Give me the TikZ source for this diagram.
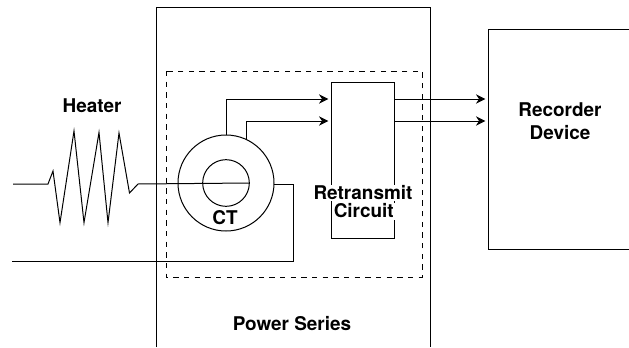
\documentclass[tikz,border=0pt]{standalone}
\usepackage{fontspec}
\setmainfont{TeX Gyre Heros}
\usetikzlibrary{arrows.meta}

\begin{document}
\begin{tikzpicture}[x=0.75pt,y=-0.75pt,line width=0.75pt,
    title/.style={font=\fontsize{14.2}{17}\selectfont\bfseries, inner sep=0pt, align=center},
    cover/.style={title, fill=white, inner ysep=1pt},
    wire/.style={-{Stealth[length=7pt,width=7pt]}, shorten >=2pt}]
    \useasboundingbox (0,0) rectangle (629,347);

    % Power series housing, cut off by the page
    \draw (156,347) -- (156,7) -- (430,7) -- (430,347);
    \draw[dashed, dash pattern=on 4pt off 4pt] (166,71) rectangle (422,277);
    \node[title] (power) at (292,324) {Power Series};

    % Recorder
    \node[draw, minimum width=140pt, minimum height=165pt, anchor=north west, inner sep=0pt] (recorder) at (488,29) {};
    \node[title] (recordername) at (560,121.5) {Recorder\\[0.2pt]Device};

    % Retransmit circuit
    \node[draw, minimum width=47.6pt, minimum height=117pt, anchor=north west, inner sep=0pt] (retransmit) at (331,81.7) {};
    \node[cover] (retransmitname) at (363,193) {Retransmit};
    \node[cover, anchor=west] (circuitname) at (333.3,211) {Circuit\kern3pt};

    % Current transformer
    \node[draw, circle, minimum size=72pt, inner sep=0pt] (ct) at (226,183) {};
    \node[draw, circle, minimum size=35pt, inner sep=0pt] (core) at (226,183) {};
    \node[title] (ctname) at (225,218) {CT};

    % Heater
    \node[title] (heater) at (92,106) {Heater};
    \coordinate (linein) at (13,184);
    \coordinate (returnend) at (12,261);
    \draw (linein) -- (48,184) -- (53,171) -- (60,222.7) -- (74,131) -- (84,222.7) -- (99,132.5)
        -- (108,222.7) -- (119,133) -- (129.5,193) -- (138,184) -- (core.east);
    \draw (ct.-2) -| (293,261) -- (returnend);

    % Signal lines
    \draw[wire] (ct.north) |- (retransmit.west |- 0,99);
    \draw[wire] (ct.65) |- (retransmit.west |- 0,121);
    \draw[wire] (retransmit.east |- 0,99) -- (recorder.west |- 0,99);
    \draw[wire] (retransmit.east |- 0,121) -- (recorder.west |- 0,121);
\end{tikzpicture}
\end{document}
